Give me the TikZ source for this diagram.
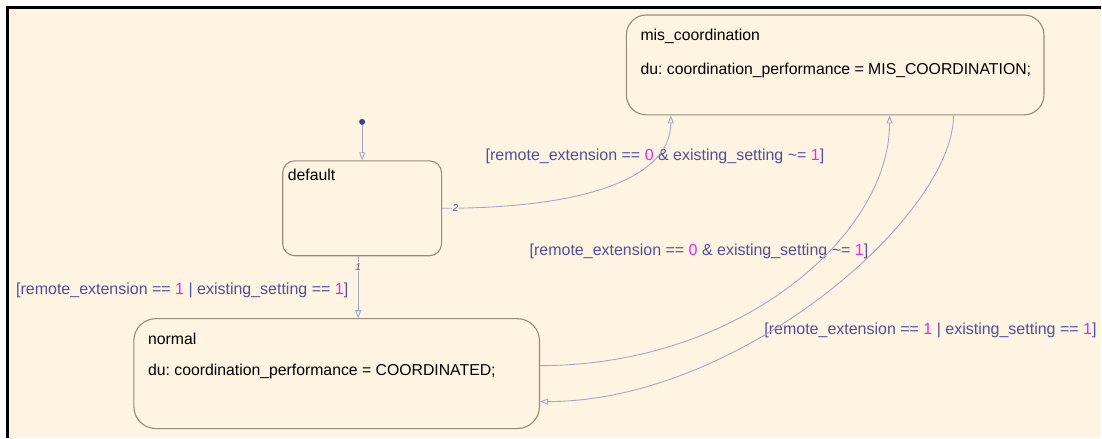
\documentclass[tikz,border=0pt]{standalone}
\usepackage{fontspec}
\setmainfont{Liberation Sans}
\usepackage{tikz}
\usetikzlibrary{positioning,arrows.meta,calc}
\definecolor{chartbg}{HTML}{FFF4E1}
\definecolor{stateline}{HTML}{958C7C}
\definecolor{transline}{HTML}{A6A6CA}
\definecolor{guardtext}{HTML}{50509C}
\definecolor{numpink}{HTML}{F020F0}
\definecolor{initdot}{HTML}{3E3E8E}
\frenchspacing

\begin{document}
\begin{tikzpicture}[x=1pt, y=-1pt,
    chartstate/.style={draw=stateline, line width=1.1pt, inner sep=0pt},
    statetext/.style={font=\fontsize{15.8}{18}\selectfont, text=black, inner sep=0pt, anchor=west},
    guard/.style={font=\fontsize{16}{18}\selectfont, text=guardtext, inner sep=0pt, anchor=west},
    trans/.style={draw=transline, line width=0.9pt, -{Triangle[open, length=8pt, width=6pt]}},
    order/.style={font=\fontsize{10}{12}\selectfont\itshape, text=guardtext, fill=chartbg, inner sep=1pt}
  ]
    % Chart frame
    \fill[white] (0,0) rectangle (1102,438);
    \fill[chartbg] (8,8) rectangle (1102,438);
    \draw[black, line width=2.2pt] (7.5,438) -- (7.5,7.5) -- (1102,7.5);
    \useasboundingbox (0,0) rectangle (1102,438);

    % Top: mis_coordination
    \node[chartstate, rounded corners=20pt, minimum width=418pt, minimum height=100pt] (mis) at (836,65) {};
    \node[statetext] (misname) at (641,36) {mis\_coordination};
    \node[statetext] (misdu) at (641,70) {du: coordination\_performance = MIS\_COORDINATION;};

    % Left: default
    \node[chartstate, rounded corners=12pt, minimum width=159pt, minimum height=95pt] (dflt) at (362.5,208.5) {};
    \node[statetext] (dfltname) at (288,175) {default};

    % Bottom: normal
    \node[chartstate, rounded corners=22pt, minimum width=406pt, minimum height=110pt] (nrm) at (337,374) {};
    \node[statetext] (nrmname) at (148,339) {normal};
    \node[statetext] (nrmdu) at (148,372) {du: coordination\_performance = COORDINATED;};

    % Guards
    \node[guard] (g1) at (486,157) {[remote\_extension == \textcolor{numpink}{0} \& existing\_setting \textasciitilde= \textcolor{numpink}{1}]};
    \node[guard] (g2) at (530,252) {[remote\_extension == \textcolor{numpink}{0} \& existing\_setting \textasciitilde= \textcolor{numpink}{1}]};
    \node[guard] (g3) at (765,331) {[remote\_extension == \textcolor{numpink}{1} | existing\_setting == \textcolor{numpink}{1}]};
    \node[guard] (g4) at (16,291) {[remote\_extension == \textcolor{numpink}{1} | existing\_setting == \textcolor{numpink}{1}]};

    % Default transition
    \node[circle, fill=initdot, minimum size=6pt, inner sep=0pt] (init) at (362.5,122) {};
    \draw[trans] (init) -- (dflt.north);

    % Transitions
    \coordinate (d1) at ([xshift=-4pt]dflt.south);
    \draw[trans] (d1) -- (d1 |- nrm.north) node[order, pos=0.17] (o1) {1};
    \draw[trans] (dflt.east) .. controls +(150,0) and +(0,60) .. ([xshift=45pt]mis.south west)
      node[order, pos=0.03] (o2) {2};
    \draw[trans] ([yshift=8pt]nrm.east) .. controls +(200,0) and +(0,120) .. ([xshift=264pt]mis.south west);
    \draw[trans] ([xshift=328pt]mis.south west) .. controls +(0,100) and +(200,0) .. ([yshift=-28pt]nrm.east);
  \end{tikzpicture}
\end{document}
